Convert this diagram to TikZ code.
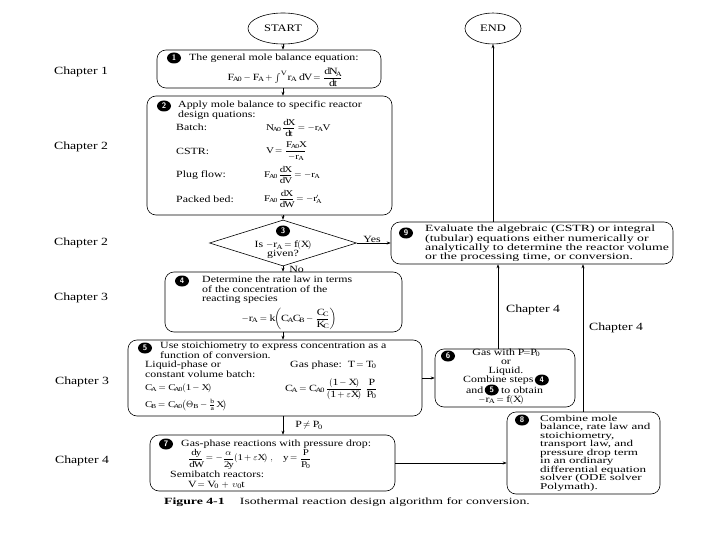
\documentclass[tikz,border=0pt]{standalone}
\usepackage{amsmath}
\usepackage{fontspec}
\setmainfont{Liberation Serif}[FakeStretch=1.25]
\newfontfamily\widefont{Liberation Serif}[FakeStretch=1.45]
\usetikzlibrary{shapes.geometric,arrows.meta}
\tikzset{
  box/.style={draw, rounded corners=9pt, line width=0.6pt, inner sep=0pt},
  term/.style={draw, ellipse, line width=0.6pt, inner sep=0pt, font=\fontsize{10}{10}\selectfont},
  num/.style={ellipse, fill=black, text=white, inner sep=0pt, minimum width=14pt, minimum height=11pt, font=\sffamily\bfseries\fontsize{8}{8}\selectfont},
  txt/.style={inner sep=0pt, align=left, font=\fontsize{9.5}{9.6}\selectfont},
  ctxt/.style={inner sep=0pt, align=center, font=\fontsize{9.5}{9.2}\selectfont},
  wtxt/.style={inner sep=0pt, align=left, font=\widefont\fontsize{9.5}{9.3}\selectfont},
  eq/.style={inner sep=0pt, font=\fontsize{9.5}{10}\selectfont},
  seq/.style={inner sep=0pt, font=\fontsize{8.8}{9}\selectfont},
  arr/.style={-{Stealth[length=4pt,width=3pt]}, line width=0.5pt},
  chap/.style={inner sep=0pt, font=\fontsize{11}{11}\selectfont}
}
\begin{document}
\begin{tikzpicture}[x=1pt,y=-1pt]
\useasboundingbox (0,0) rectangle (720,540);
\fill[white] (0,0) rectangle (720,540);
% terminals
\node[term, minimum width=70pt, minimum height=31pt] (start) at (283,28.5) {START};
\node[term, minimum width=56pt, minimum height=31pt] (end) at (493,28.5) {END};
% boxes
\node[box, minimum width=224pt, minimum height=38pt] (b1) at (269,69) {};
\node[box, minimum width=245pt, minimum height=119pt] (b2) at (269.5,155.5) {};
\node[draw, diamond, line width=0.6pt, inner sep=0pt, minimum width=147pt, minimum height=46pt] (d3) at (283,243) {};
\node[box, minimum width=237pt, minimum height=60pt] (b4) at (283.5,302) {};
\node[box, minimum width=294pt, minimum height=76pt] (b5) at (275,378) {};
\node[box, minimum width=140pt, minimum height=58pt] (b6) at (505,378) {};
\node[box, minimum width=245pt, minimum height=56pt] (b7) at (272.5,463) {};
\node[box, minimum width=153pt, minimum height=82pt] (b8) at (583.5,453) {};
\node[box, minimum width=282pt, minimum height=42pt] (b9) at (532,243) {};
% box 1
\node[num] (n1) at (174,58) {1};
\node[txt, anchor=west] (t1) at (189,58) {The general mole balance equation:};
\node[eq, anchor=center] (e1) at (285,77.5) {$\mathrm{F_{A0}-F_A+\int^{V} r_A\ dV=\dfrac{dN_A}{dt}}$};
% box 2
\node[num] (n2) at (164,106) {2};
\node[txt, anchor=north west] (t2) at (178,101) {Apply mole balance to specific reactor\\design quations:};
\node[txt, anchor=west] (l2a) at (176,127) {Batch:};
\node[txt, anchor=west] (l2b) at (176,151) {CSTR:};
\node[txt, anchor=west] (l2c) at (176,175) {Plug flow:};
\node[txt, anchor=west] (l2d) at (176,199) {Packed bed:};
\node[seq, anchor=west] (e2a) at (266,128) {$\mathrm{N_{A0}\,\dfrac{dX}{dt}=-r_AV}$};
\node[seq, anchor=west] (e2b) at (266,151) {$\mathrm{V=\dfrac{F_{A0}X}{-r_A}}$};
\node[seq, anchor=west] (e2c) at (264,175) {$\mathrm{F_{A0}\,\dfrac{dX}{dV}=-r_A}$};
\node[seq, anchor=west] (e2d) at (264,199) {$\mathrm{F_{A0}\,\dfrac{dX}{dW}=-r'_A}$};
% diamond 3
\node[num] (n3) at (283,231) {3};
\node[ctxt] (t3) at (283,250) {Is $-\mathrm{r_A=f(X)}$\\given?};
% box 4
\node[num] (n4) at (182,281) {4};
\node[txt, anchor=north west] (t4) at (202,276) {Determine the rate law in terms\\of the concentration of the\\reacting species};
\node[eq, anchor=center] (e4) at (289,319) {$\mathrm{-r_A=k\!\left(C_AC_B-\dfrac{C_C}{K_C}\right)}$};
% box 5
\node[num] (n5) at (145,348) {5};
\node[txt, anchor=north west] (t5) at (160,342) {Use stoichiometry to express concentration as a\\function of conversion.};
\node[txt, anchor=north west] (t5a) at (145,361) {Liquid-phase or\\constant volume batch:};
\node[txt, anchor=west] (t5b) at (290,365) {Gas phase:\ \ $\mathrm{T=T_0}$};
\node[seq, anchor=west] (e5a) at (145,388.5) {$\mathrm{C_A=C_{A0}(1-X)}$};
\node[seq, anchor=west] (e5b) at (145,405) {$\mathrm{C_B=C_{A0}}\!\left(\Theta_{\mathrm{B}}-\frac{\mathrm{b}}{\mathrm{a}}\,\mathrm{X}\right)$};
\node[eq, anchor=west] (e5c) at (285,389) {$\mathrm{C_A=C_{A0}\,\dfrac{(1-X)}{(1+\varepsilon X)}\ \dfrac{P}{P_0}}$};
% box 6
\node[num] (n6) at (448,356) {6};
\node[ctxt] (t6a) at (506,362) {Gas with $\mathrm{P{=}P_0}$\\or\\Liquid.};
\node[txt, anchor=west] (t6b) at (463,380) {Combine steps};
\node[num, anchor=west] (n6a) at ([xshift=1pt]t6b.east) {4};
\node[txt, anchor=west] (t6c) at (466,390) {and};
\node[num, anchor=west] (n6b) at ([xshift=1pt]t6c.east) {5};
\node[txt, anchor=west] (t6d) at ([xshift=2pt]n6b.east) {to obtain};
\node[eq] (t6e) at (501,400) {$\mathrm{-r_A=f(X)}$};
% box 7
\node[num] (n7) at (166,444) {7};
\node[txt, anchor=west] (t7) at (181,444) {Gas-phase reactions with pressure drop:};
\node[seq, anchor=west] (e7) at (188,459) {$\mathrm{\dfrac{dy}{dW}=-\dfrac{\alpha}{2y}(1+\varepsilon X)\ ,\quad y=\dfrac{P}{P_0}}$};
\node[txt, anchor=west] (t7b) at (170,474) {Semibatch reactors:};
\node[eq, anchor=west] (e7b) at (188,485) {$\mathrm{V=V_0\,+\,\upsilon_0 t}$};
% box 8
\node[num] (n8) at (522,420) {8};
\node[wtxt, anchor=north west, font=\widefont\fontsize{9}{8.5}\selectfont] (t8) at (540,415) {Combine mole\\balance, rate law and\\stoichiometry,\\transport law, and\\pressure drop term\\in an ordinary\\differential equation\\solver (ODE solver\\Polymath).};
% box 9
\node[num] (n9) at (406,233) {9};
\node[wtxt, anchor=north west] (t9) at (425,225) {Evaluate the algebraic (CSTR) or integral\\(tubular) equations either numerically or\\analytically to determine the reactor volume\\or the processing time, or conversion.};
% chapter labels
\node[chap] (c1) at (81,72) {Chapter 1};
\node[chap] (c2) at (81,147) {Chapter 2};
\node[chap] (c3) at (81,243) {Chapter 2};
\node[chap] (c4) at (81,298) {Chapter 3};
\node[chap] (c5) at (82,382) {Chapter 3};
\node[chap] (c6) at (82,461) {Chapter 4};
\node[chap] (c7) at (533,310) {Chapter 4};
\node[chap] (c8) at (616,328) {Chapter 4};
% caption
\node[inner sep=0pt, font=\widefont\fontsize{9.5}{10}\selectfont] (cap) at (347,502) {\textbf{Figure 4-1}\hspace{1.6em}Isothermal reaction design algorithm for conversion.};
% connectors
\coordinate (x6) at (498,300);
\coordinate (x8) at (583,300);
\draw[arr] (start.south) -- (start.south |- b1.north);
\draw[arr] (b1.south -| start) -- (b2.north -| start);
\draw[arr] (b2.south -| start) -- (d3.north);
\draw[arr] (d3.east) -- (d3.east -| b9.west) node[pos=0.45, above, txt] (yes) {Yes};
\draw[arr] (d3.south) -- (d3.south |- b4.north) node[midway, right=6pt, txt] (no) {No};
\draw[arr] (b4.south -| start) -- (b5.north -| start);
\draw[arr] (b5.east |- b6.west) -- (b6.west);
\draw[arr] (b5.south -| start) -- (b7.north -| start) node[midway, right=12pt, txt] (pne) {$\mathrm{P\neq P_0}$};
\draw[arr] (b7.east) -- (b7.east -| b8.west);
\draw[arr] (b6.north -| x6) -- (b9.south -| x6);
\draw[arr] (b8.north -| x8) -- (b9.south -| x8);
\draw[arr] (b9.north -| end) -- (end.south);
\end{tikzpicture}
\end{document}
